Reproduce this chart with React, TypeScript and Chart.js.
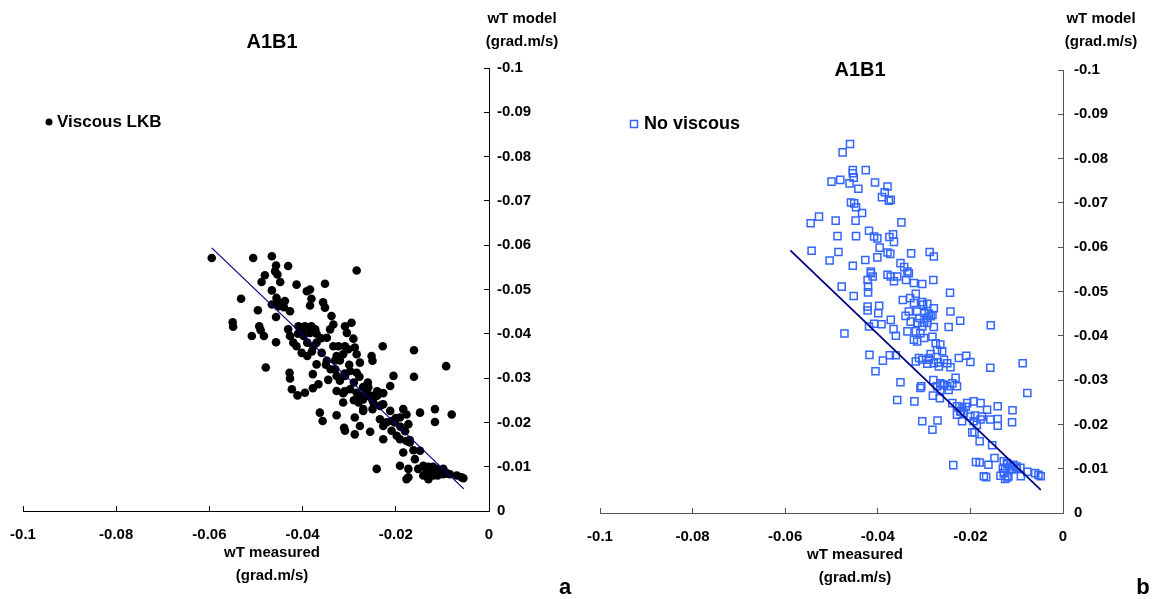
import React, { useEffect, useRef } from 'react';
import { Chart, registerables } from 'chart.js';

Chart.register(...registerables);

const FONT = '"Liberation Sans", Arial, Helvetica, sans-serif';

// ---- Tick values / labels ----
const xTickValues = [-0.1, -0.08, -0.06, -0.04, -0.02, 0];
const xTickLabels = ['-0.1', '-0.08', '-0.06', '-0.04', '-0.02', '0'];
const yTickValues = [-0.1, -0.09, -0.08, -0.07, -0.06, -0.05, -0.04, -0.03, -0.02, -0.01, 0];
const yTickLabels = ['-0.1', '-0.09', '-0.08', '-0.07', '-0.06', '-0.05', '-0.04', '-0.03', '-0.02', '-0.01', '0'];

// ---- Panel a: Viscous LKB ----
const viscousX = [
  -0.0595, -0.0506, -0.0466, -0.0457, -0.0431, -0.0459, -0.0454, -0.0481, -0.0284, -0.0488,
  -0.0448, -0.0413, -0.0352, -0.0466, -0.0391, -0.0384, -0.0532, -0.0456, -0.0438, -0.0381,
  -0.0356, -0.0352, -0.0384, -0.0496, -0.0466, -0.0452, -0.0427, -0.0457, -0.0550, -0.0549,
  -0.0493, -0.0490, -0.0509, -0.0483, -0.0457, -0.0431, -0.0427, -0.0409, -0.0395, -0.0381,
  -0.0373, -0.0384, -0.0398, -0.0420, -0.0413, -0.0402, -0.0390, -0.0377, -0.0338, -0.0334,
  -0.0341, -0.0348, -0.0309, -0.0295, -0.0305, -0.0291, -0.0309, -0.0334, -0.0323, -0.0359,
  -0.0370, -0.0348, -0.0327, -0.0313, -0.0302, -0.0288, -0.0284, -0.0277, -0.0252, -0.0250,
  -0.0228, -0.0161, -0.0092, -0.0479, -0.0428, -0.0427, -0.0423, -0.0411, -0.0395, -0.0378,
  -0.0366, -0.0378, -0.0345, -0.0327, -0.0330, -0.0320, -0.0309, -0.0298, -0.0284, -0.0278,
  -0.0327, -0.0313, -0.0298, -0.0284, -0.0277, -0.0270, -0.0259, -0.0252, -0.0263, -0.0245,
  -0.0227, -0.0212, -0.0205, -0.0161, -0.0313, -0.0280, -0.0270, -0.0248, -0.0234, -0.0227,
  -0.0212, -0.0363, -0.0357, -0.0327, -0.0311, -0.0309, -0.0288, -0.0288, -0.0277, -0.0255,
  -0.0234, -0.0227, -0.0209, -0.0202, -0.0191, -0.0184, -0.0177, -0.0173, -0.0148, -0.0116,
  -0.0080, -0.0116, -0.0209, -0.0198, -0.0191, -0.0177, -0.0170, -0.0227, -0.0184, -0.0162,
  -0.0148, -0.0159, -0.0191, -0.0173, -0.0241, -0.0152, -0.0141, -0.0134, -0.0127, -0.0112,
  -0.0098, -0.0119, -0.0109, -0.0098, -0.0084, -0.0069, -0.0059, -0.0055, -0.0141, -0.0130,
  -0.0177, -0.0173,
  -0.026, -0.025, -0.024, -0.027, -0.029, -0.031, -0.030, -0.032, -0.033, -0.034,
  -0.031, -0.029, -0.027, -0.025, -0.023, -0.022, -0.019, -0.018, -0.020, -0.013,
  -0.012, -0.012, -0.011, -0.013, -0.010, -0.009, -0.038, -0.037, -0.039, -0.036,
  -0.040, -0.041, -0.045, -0.044, -0.038, -0.037, -0.035, -0.026, -0.024, -0.017,
];
const viscousY = [
  -0.0571, -0.0571, -0.0575, -0.0554, -0.0553, -0.0541, -0.0534, -0.0532, -0.0543, -0.0517,
  -0.0517, -0.0511, -0.0513, -0.0498, -0.0496, -0.0500, -0.0479, -0.0481, -0.0474, -0.0479,
  -0.0471, -0.0459, -0.0464, -0.0453, -0.0466, -0.0462, -0.0451, -0.0438, -0.0426, -0.0416,
  -0.0417, -0.0408, -0.0395, -0.0395, -0.0381, -0.0410, -0.0395, -0.0417, -0.0417, -0.0417,
  -0.0410, -0.0402, -0.0395, -0.0380, -0.0372, -0.0357, -0.0350, -0.0372, -0.0440, -0.0421,
  -0.0410, -0.0391, -0.0417, -0.0425, -0.0402, -0.0389, -0.0372, -0.0372, -0.0372, -0.0357,
  -0.0331, -0.0339, -0.0350, -0.0354, -0.0365, -0.0369, -0.0354, -0.0335, -0.0350, -0.0339,
  -0.0372, -0.0363, -0.0327, -0.0324, -0.0312, -0.0299, -0.0275, -0.0261, -0.0267, -0.0277,
  -0.0286, -0.0309, -0.0296, -0.0305, -0.0320, -0.0294, -0.0305, -0.0316, -0.0312, -0.0303,
  -0.0271, -0.0266, -0.0275, -0.0267, -0.0260, -0.0252, -0.0279, -0.0260, -0.0271, -0.0260,
  -0.0266, -0.0282, -0.0305, -0.0303, -0.0245, -0.0245, -0.0226, -0.0245, -0.0237, -0.0241,
  -0.0226, -0.0222, -0.0203, -0.0216, -0.0188, -0.0181, -0.0211, -0.0173, -0.0192, -0.0179,
  -0.0207, -0.0192, -0.0203, -0.0200, -0.0211, -0.0230, -0.0218, -0.0196, -0.0222, -0.0230,
  -0.0218, -0.0201, -0.0181, -0.0170, -0.0162, -0.0158, -0.0155, -0.0162, -0.0132, -0.0137,
  -0.0136, -0.0117, -0.0102, -0.0095, -0.0095, -0.0095, -0.0102, -0.0091, -0.0083, -0.0095,
  -0.0095, -0.0080, -0.0083, -0.0083, -0.0083, -0.0080, -0.0076, -0.0074, -0.0080, -0.0072,
  -0.0072, -0.0076,
  -0.026, -0.025, -0.027, -0.028, -0.029, -0.031, -0.033, -0.034, -0.034, -0.032,
  -0.027, -0.025, -0.023, -0.023, -0.024, -0.020, -0.019, -0.018, -0.021, -0.010,
  -0.009, -0.010, -0.008, -0.008, -0.009, -0.0085, -0.041, -0.040, -0.038, -0.039,
  -0.041, -0.040, -0.047, -0.046, -0.036, -0.038, -0.033, -0.029, -0.026, -0.016,
];
const viscousLineX = [-0.0595, -0.0054];
const viscousLineY = [-0.0594, -0.0050];

// ---- Panel b: No viscous ----
const noViscousX = [
  -0.0460, -0.0476, -0.0454, -0.0426, -0.0454, -0.0452, -0.0500, -0.0481, -0.0461, -0.0406,
  -0.0379, -0.0442, -0.0385, -0.0391, -0.0376, -0.0372, -0.0458, -0.0451, -0.0447, -0.0434,
  -0.0527, -0.0545, -0.0491, -0.0448, -0.0349, -0.0419, -0.0487, -0.0447, -0.0408, -0.0401,
  -0.0375, -0.0367, -0.0365, -0.0543, -0.0485, -0.0396, -0.0379, -0.0373, -0.0328, -0.0288,
  -0.0279, -0.0504, -0.0427, -0.0454, -0.0401, -0.0351, -0.0343, -0.0415, -0.0411, -0.0422,
  -0.0415, -0.0379, -0.0372, -0.0365, -0.0358, -0.0336, -0.0333, -0.0339, -0.0322, -0.0304,
  -0.0280, -0.0478, -0.0452, -0.0421, -0.0421, -0.0397, -0.0422, -0.0422, -0.0399, -0.0372,
  -0.0408, -0.0392, -0.0346, -0.0330, -0.0318, -0.0304, -0.0302, -0.0293, -0.0279, -0.0244,
  -0.0243, -0.0322, -0.0315, -0.0300, -0.0293, -0.0286, -0.0282, -0.0333, -0.0340, -0.0329,
  -0.0315, -0.0304, -0.0293, -0.0279, -0.0336, -0.0318, -0.0308, -0.0300, -0.0322, -0.0315,
  -0.0472, -0.0361, -0.0366, -0.0419, -0.0247, -0.0222, -0.0156, -0.0282, -0.0275, -0.0265,
  -0.0261, -0.0272, -0.0286, -0.0290, -0.0279, -0.0268, -0.0257, -0.0250, -0.0243, -0.0225,
  -0.0209, -0.0200, -0.0157, -0.0087, -0.0418, -0.0389, -0.0374, -0.0361, -0.0405, -0.0311,
  -0.0304, -0.0293, -0.0318, -0.0351, -0.0308, -0.0306, -0.0281, -0.0265, -0.0257, -0.0250,
  -0.0247, -0.0272, -0.0265, -0.0239, -0.0232, -0.0229, -0.0266, -0.0239, -0.0229, -0.0218,
  -0.0207, -0.0193, -0.0178, -0.0164, -0.0175, -0.0200, -0.0193, -0.0186, -0.0214, -0.0222,
  -0.0229, -0.0218, -0.0178, -0.0157, -0.0141, -0.0109, -0.0141, -0.0141, -0.0110, -0.0077,
  -0.0358, -0.0321, -0.0304, -0.0271, -0.0282, -0.0196, -0.0191, -0.0180, -0.0153, -0.0148,
  -0.0188, -0.0180, -0.0161, -0.0237, -0.0171, -0.0166, -0.0128, -0.0121, -0.0114, -0.0125,
  -0.0107, -0.0100, -0.0092, -0.0128, -0.0118, -0.0125, -0.0135, -0.0110, -0.0091, -0.0077,
  -0.0060, -0.0053, -0.0048,
  -0.012, -0.011, -0.013, -0.012, -0.010, -0.029, -0.027, -0.028, -0.026, -0.030,
  -0.031, -0.029, -0.021, -0.022, -0.019,
];
const noViscousY = [
  -0.0833, -0.0814, -0.0774, -0.0774, -0.0767, -0.0757, -0.0748, -0.0752, -0.0744, -0.0746,
  -0.0737, -0.0732, -0.0724, -0.0713, -0.0705, -0.0707, -0.0701, -0.0699, -0.0690, -0.0677,
  -0.0669, -0.0654, -0.0660, -0.0660, -0.0656, -0.0637, -0.0625, -0.0625, -0.0624, -0.0620,
  -0.0623, -0.0629, -0.0612, -0.0592, -0.0589, -0.0599, -0.0588, -0.0585, -0.0586, -0.0589,
  -0.0579, -0.0570, -0.0571, -0.0558, -0.0577, -0.0564, -0.0555, -0.0541, -0.0534, -0.0526,
  -0.0545, -0.0538, -0.0534, -0.0523, -0.0534, -0.0545, -0.0541, -0.0526, -0.0519, -0.0517,
  -0.0526, -0.0511, -0.0490, -0.0511, -0.0498, -0.0468, -0.0466, -0.0457, -0.0451, -0.0436,
  -0.0427, -0.0426, -0.0481, -0.0485, -0.0495, -0.0476, -0.0470, -0.0472, -0.0462, -0.0497,
  -0.0455, -0.0474, -0.0455, -0.0451, -0.0440, -0.0444, -0.0447, -0.0455, -0.0445, -0.0432,
  -0.0429, -0.0421, -0.0429, -0.0420, -0.0410, -0.0410, -0.0406, -0.0395, -0.0391, -0.0387,
  -0.0405, -0.0400, -0.0415, -0.0421, -0.0420, -0.0434, -0.0424, -0.0398, -0.0383, -0.0380,
  -0.0365, -0.0368, -0.0359, -0.0346, -0.0338, -0.0331, -0.0346, -0.0338, -0.0329, -0.0350,
  -0.0355, -0.0341, -0.0328, -0.0338, -0.0357, -0.0344, -0.0356, -0.0356, -0.0320, -0.0350,
  -0.0346, -0.0337, -0.0342, -0.0295, -0.0282, -0.0286, -0.0265, -0.0293, -0.0289, -0.0286,
  -0.0278, -0.0286, -0.0278, -0.0293, -0.0305, -0.0286, -0.0259, -0.0248, -0.0241, -0.0237,
  -0.0248, -0.0252, -0.0248, -0.0233, -0.0218, -0.0218, -0.0207, -0.0199, -0.0226, -0.0229,
  -0.0222, -0.0207, -0.0211, -0.0211, -0.0241, -0.0232, -0.0212, -0.0197, -0.0205, -0.0271,
  -0.0255, -0.0252, -0.0207, -0.0209, -0.0188, -0.0182, -0.0182, -0.0162, -0.0153, -0.0124,
  -0.0115, -0.0114, -0.0109, -0.0108, -0.0083, -0.0081, -0.0117, -0.0113, -0.0105, -0.0102,
  -0.0109, -0.0105, -0.0102, -0.0090, -0.0083, -0.0077, -0.0084, -0.0098, -0.0083, -0.0093,
  -0.0090, -0.0086, -0.0083,
  -0.011, -0.010, -0.010, -0.008, -0.010, -0.035, -0.034, -0.030, -0.029, -0.043,
  -0.044, -0.045, -0.024, -0.023, -0.022,
];
const noViscousLineX = [-0.0589, -0.0048];
const noViscousLineY = [-0.0593, -0.0052];

type TextItem = { text: string; x: number; y: number; size: number; align?: CanvasTextAlign };

type PanelCfg = {
  left: number;
  xs: number[];
  ys: number[];
  lineX: number[];
  lineY: number[];
  area: { left: number; right: number; top: number; bottom: number };
  marker: 'circle' | 'rect';
  color: string;
  axisColor: string;
  lineWidth: number;
  yPad: number;
  texts: TextItem[];
  legendMarker: { x: number; y: number };
};

const W = 576;
const H = 599;

const panels: PanelCfg[] = [
  {
    left: 0,
    xs: viscousX,
    ys: viscousY,
    lineX: viscousLineX,
    lineY: viscousLineY,
    area: { left: 23, right: 489, top: 68, bottom: 511 },
    marker: 'circle',
    color: '#000000',
    axisColor: '#000000',
    lineWidth: 1.2,
    yPad: 13,
    texts: [
      { text: 'A1B1', x: 272, y: 42, size: 20 },
      { text: 'wT model', x: 522, y: 19, size: 15 },
      { text: '(grad.m/s)', x: 522, y: 42, size: 15 },
      { text: 'wT measured', x: 272, y: 553, size: 15 },
      { text: '(grad.m/s)', x: 272, y: 576, size: 15 },
      { text: 'a', x: 565, y: 588, size: 22 },
      { text: 'Viscous LKB', x: 57, y: 122, size: 17, align: 'left' },
    ],
    legendMarker: { x: 49, y: 122 },
  },
  {
    left: 577,
    xs: noViscousX,
    ys: noViscousY,
    lineX: noViscousLineX,
    lineY: noViscousLineY,
    area: { left: 23, right: 486, top: 70, bottom: 513 },
    marker: 'rect',
    color: '#3366ff',
    axisColor: '#555555',
    lineWidth: 1.8,
    yPad: 16,
    texts: [
      { text: 'A1B1', x: 283, y: 70, size: 20 },
      { text: 'wT model', x: 524, y: 19, size: 15 },
      { text: '(grad.m/s)', x: 524, y: 42, size: 15 },
      { text: 'wT measured', x: 278, y: 555, size: 15 },
      { text: '(grad.m/s)', x: 278, y: 578, size: 15 },
      { text: 'b', x: 566, y: 588, size: 22 },
      { text: 'No viscous', x: 67, y: 124, size: 18, align: 'left' },
    ],
    legendMarker: { x: 57, y: 124 },
  },
];

function Panel({ cfg }: { cfg: PanelCfg }) {
  const ref = useRef<HTMLCanvasElement | null>(null);

  useEffect(() => {
    if (!ref.current) return;
    const points = cfg.xs.map((x, i) => ({ x, y: cfg.ys[i] }));
    const linePts = cfg.lineX.map((x, i) => ({ x, y: cfg.lineY[i] }));
    const tickFont = { family: FONT, size: 15, weight: 'bold' as const };

    const textPlugin = {
      id: 'panelText',
      afterDraw(chart: any) {
        const ctx = chart.ctx as CanvasRenderingContext2D;
        ctx.save();
        ctx.fillStyle = '#000';
        ctx.textBaseline = 'middle';
        for (const t of cfg.texts) {
          ctx.font = `bold ${t.size}px ${FONT}`;
          ctx.textAlign = t.align || 'center';
          ctx.fillText(t.text, t.x, t.y);
        }
        const m = cfg.legendMarker;
        if (cfg.marker === 'circle') {
          ctx.beginPath();
          ctx.arc(m.x, m.y, 3.5, 0, Math.PI * 2);
          ctx.fillStyle = cfg.color;
          ctx.fill();
        } else {
          ctx.strokeStyle = cfg.color;
          ctx.lineWidth = 1.5;
          ctx.strokeRect(m.x - 3.5, m.y - 3.5, 7, 7);
        }
        ctx.restore();
      },
    };

    const chart = new Chart(ref.current, {
      type: 'scatter',
      data: {
        datasets: [
          {
            data: linePts,
            showLine: true,
            borderColor: '#000080',
            borderWidth: cfg.lineWidth,
            pointRadius: 0,
            fill: false,
          } as any,
          cfg.marker === 'circle'
            ? {
                data: points,
                pointStyle: 'circle',
                pointRadius: 4.3,
                backgroundColor: cfg.color,
                borderColor: cfg.color,
                borderWidth: 0,
              }
            : {
                data: points,
                pointStyle: 'rect',
                pointRadius: 5,
                backgroundColor: 'rgba(255,255,255,0)',
                borderColor: cfg.color,
                borderWidth: 1.5,
              },
        ],
      },
      options: {
        responsive: true,
        maintainAspectRatio: false,
        animation: false,
        events: [],
        layout: { padding: { left: cfg.area.left, top: cfg.area.top, right: 0, bottom: 0 } },
        plugins: {
          legend: { display: false },
          tooltip: { enabled: false },
          title: { display: false },
        },
        scales: {
          x: {
            type: 'linear',
            position: 'bottom',
            min: -0.1,
            max: 0,
            afterFit: (s: any) => {
              s.height = H - cfg.area.bottom;
              s.paddingLeft = 0;
              s.paddingRight = 0;
            },
            afterBuildTicks: (s: any) => {
              s.ticks = xTickValues.map((v) => ({ value: v }));
            },
            ticks: {
              autoSkip: false,
              maxRotation: 0,
              padding: 20,
              color: '#000',
              font: tickFont,
              callback: (_v: any, i: number) => xTickLabels[i],
            },
            grid: {
              display: true,
              drawOnChartArea: false,
              drawTicks: true,
              tickLength: -5,
              color: cfg.axisColor,
              lineWidth: 1,
            },
            border: { display: true, color: cfg.axisColor, width: 1 },
          },
          y: {
            type: 'linear',
            position: 'right',
            min: -0.1,
            max: 0,
            reverse: true,
            afterFit: (s: any) => {
              s.width = W - cfg.area.right;
              s.paddingTop = 0;
              s.paddingBottom = 0;
            },
            afterBuildTicks: (s: any) => {
              s.ticks = yTickValues.map((v) => ({ value: v }));
            },
            ticks: {
              autoSkip: false,
              padding: cfg.yPad,
              color: '#000',
              font: tickFont,
              callback: (_v: any, i: number) => yTickLabels[i],
            },
            grid: {
              display: true,
              drawOnChartArea: false,
              drawTicks: true,
              tickLength: -5,
              color: cfg.axisColor,
              lineWidth: 1,
            },
            border: { display: true, color: cfg.axisColor, width: 1 },
          },
        },
      } as any,
      plugins: [textPlugin],
    });
    return () => chart.destroy();
  }, [cfg]);

  return (
    <div style={{ position: 'absolute', left: cfg.left, top: 0, width: W, height: H }}>
      <canvas ref={ref} />
    </div>
  );
}

export default function App() {
  return (
    <div
      style={{
        position: 'fixed',
        left: 0,
        top: 0,
        width: 1153,
        height: 599,
        background: '#ffffff',
        overflow: 'hidden',
      }}
    >
      {panels.map((p, i) => (
        <Panel key={i} cfg={p} />
      ))}
    </div>
  );
}
